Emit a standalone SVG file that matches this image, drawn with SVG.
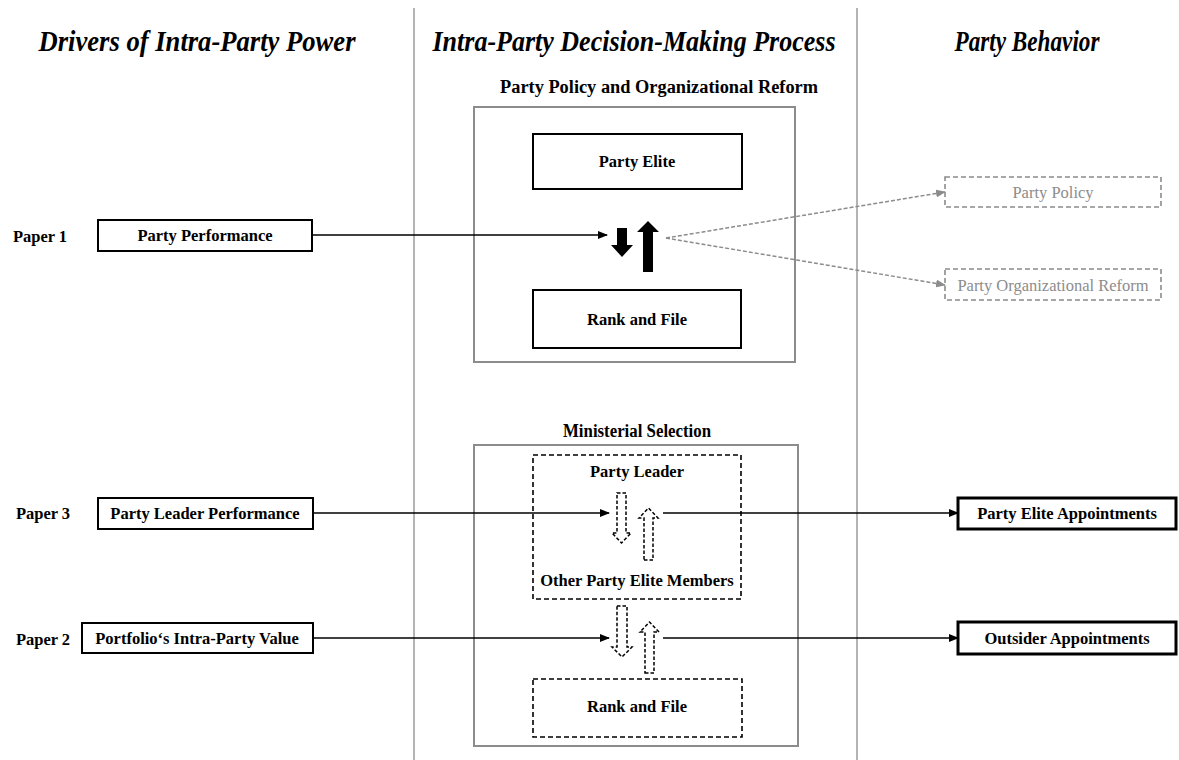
<svg xmlns="http://www.w3.org/2000/svg" width="1179" height="760" viewBox="0 0 1179 760">
<style>
.hdr{font-family:"Liberation Serif","Times New Roman",serif;font-weight:bold;font-style:italic;font-size:29px;fill:#000;text-anchor:middle}
.sub{font-family:"Liberation Serif","Times New Roman",serif;font-weight:bold;font-size:18px;fill:#000;text-anchor:middle}
.lbl{font-family:"Liberation Serif","Times New Roman",serif;font-weight:bold;font-size:16.5px;fill:#000;text-anchor:middle}
.glbl{font-family:"Liberation Serif","Times New Roman",serif;font-size:16.5px;fill:#8c8c8c;text-anchor:middle}
.box{fill:#fff;stroke:#000;stroke-width:2}
.tbox{fill:#fff;stroke:#000;stroke-width:3}
.outer{fill:#fff;stroke:#8c8c8c;stroke-width:2}
.dbox{fill:#fff;stroke:#000;stroke-width:1.6;stroke-dasharray:5,3}
.gbox{fill:#fff;stroke:#8c8c8c;stroke-width:1.6;stroke-dasharray:5,3}
.sep{stroke:#8c8c8c;stroke-width:1.3}
.conn{fill:none;stroke:#000;stroke-width:1.5}
.gconn{fill:none;stroke:#8c8c8c;stroke-width:1.5;stroke-dasharray:4,2}
.harrow{fill:#fff;stroke:#000;stroke-width:1.5;stroke-dasharray:3.5,2}
</style>
<defs>
<marker id="ah" markerWidth="10" markerHeight="8" refX="9" refY="4" orient="auto" markerUnits="userSpaceOnUse">
<path d="M0,0 L10,4 L0,8 Z" fill="#000"/>
</marker>
<marker id="gah" markerWidth="10" markerHeight="8" refX="9" refY="4" orient="auto" markerUnits="userSpaceOnUse">
<path d="M0,0 L10,4 L0,8 Z" fill="#8c8c8c"/>
</marker>
</defs>
<rect width="1179" height="760" fill="#fff"/>

<g id="separators">
<line class="sep" x1="414" y1="8" x2="414" y2="760"/>
<line class="sep" x1="857" y1="8" x2="857" y2="760"/>
</g>

<g id="headers">
<text class="hdr" x="197" y="51" textLength="317" lengthAdjust="spacingAndGlyphs">Drivers of Intra-Party Power</text>
<text class="hdr" x="634" y="51" textLength="403" lengthAdjust="spacingAndGlyphs">Intra-Party Decision-Making Process</text>
<text class="hdr" x="1027" y="51" textLength="145" lengthAdjust="spacingAndGlyphs">Party Behavior</text>
</g>

<g id="papers">
<text class="lbl" x="40" y="242">Paper 1</text>
<text class="lbl" x="43" y="519">Paper 3</text>
<text class="lbl" x="43" y="645">Paper 2</text>
</g>

<g id="section-policy">
<text class="sub" x="659" y="93" textLength="318" lengthAdjust="spacingAndGlyphs">Party Policy and Organizational Reform</text>
<rect class="outer" x="474" y="107" width="321" height="255"/>
</g>

<g id="section-ministerial">
<text class="sub" x="637" y="437" textLength="148" lengthAdjust="spacingAndGlyphs">Ministerial Selection</text>
<rect class="outer" x="474" y="445" width="324" height="301"/>
</g>

<g id="party-performance">
<rect class="box" x="98" y="220" width="214" height="31"/>
<text class="lbl" x="205" y="241">Party Performance</text>
</g>

<g id="party-leader-performance">
<rect class="box" x="98" y="498" width="215" height="31"/>
<text class="lbl" x="205" y="519">Party Leader Performance</text>
</g>

<g id="portfolio-value">
<rect class="box" x="82" y="623" width="231" height="30"/>
<text class="lbl" x="197" y="644">Portfolio‘s Intra-Party Value</text>
</g>

<g id="party-elite">
<rect class="box" x="533" y="134" width="209" height="55"/>
<text class="lbl" x="637" y="167">Party Elite</text>
</g>

<g id="rank-file-1">
<rect class="box" x="533" y="290" width="208" height="58"/>
<text class="lbl" x="637" y="325">Rank and File</text>
</g>

<g id="party-elite-group">
<rect class="dbox" x="533" y="455" width="208" height="144"/>
<text class="lbl" x="637" y="477">Party Leader</text>
<text class="lbl" x="637" y="586">Other Party Elite Members</text>
</g>

<g id="rank-file-2">
<rect class="dbox" x="533" y="679" width="209" height="58"/>
<text class="lbl" x="637" y="712">Rank and File</text>
</g>

<g id="party-policy">
<rect class="gbox" x="945" y="177" width="216" height="30"/>
<text class="glbl" x="1053" y="198">Party Policy</text>
</g>

<g id="party-org-reform">
<rect class="gbox" x="945" y="269" width="216" height="31"/>
<text class="glbl" x="1053" y="291">Party Organizational Reform</text>
</g>

<g id="party-elite-appointments">
<rect class="tbox" x="958" y="498" width="218" height="31"/>
<text class="lbl" x="1067" y="519">Party Elite Appointments</text>
</g>

<g id="outsider-appointments">
<rect class="tbox" x="958" y="622" width="218" height="32"/>
<text class="lbl" x="1067" y="644">Outsider Appointments</text>
</g>

<g id="connectors">
<line class="conn" x1="312" y1="235" x2="607" y2="235" marker-end="url(#ah)"/>
<path d="M617,228 H627 V245 H633 L622,257 L611,245 H617 Z" fill="#000"/>
<path d="M643,272 H653 V232 H659 L648,221 L637,232 H643 Z" fill="#000"/>
<line class="gconn" x1="666" y1="238" x2="945" y2="192" marker-end="url(#gah)"/>
<line class="gconn" x1="666" y1="238" x2="945" y2="285" marker-end="url(#gah)"/>

<line class="conn" x1="313" y1="513" x2="609" y2="513" marker-end="url(#ah)"/>
<path class="harrow" d="M617,493 H626 V533 H631 L621.5,543 L612,533 H617 Z"/>
<path class="harrow" d="M644,560 H653 V518 H658 L648.5,508 L639,518 H644 Z"/>
<line class="conn" x1="663" y1="513" x2="958" y2="513" marker-end="url(#ah)"/>

<line class="conn" x1="313" y1="638" x2="609" y2="638" marker-end="url(#ah)"/>
<path class="harrow" d="M617,606 H627 V647 H632 L622,657 L612,647 H617 Z"/>
<path class="harrow" d="M645,673 H654 V632 H659 L649.5,622 L640,632 H645 Z"/>
<line class="conn" x1="663" y1="638" x2="958" y2="638" marker-end="url(#ah)"/>
</g>
</svg>
